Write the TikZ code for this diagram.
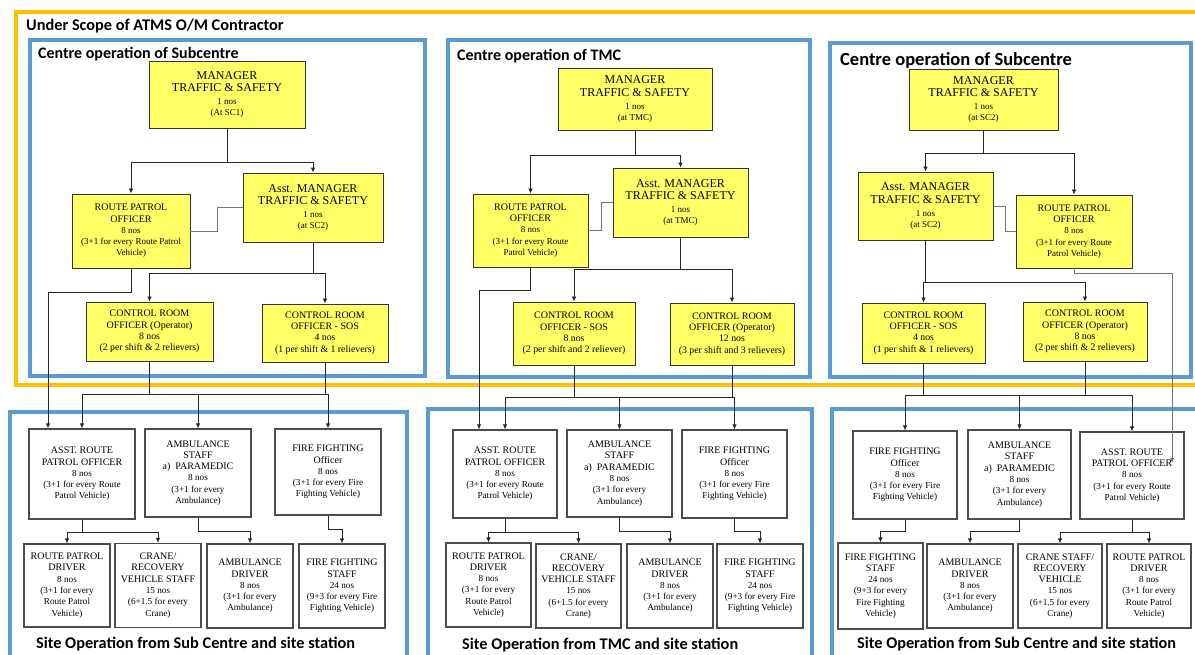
\documentclass[tikz,border=0pt]{standalone}
\usepackage{fontspec}
\setmainfont{Liberation Serif}
\newfontfamily\boxfont{Liberation Serif}
\newfontfamily\titlefont{Carlito}
\usepackage{tikz}
\usetikzlibrary{arrows.meta, positioning}
\definecolor{scopeyellow}{HTML}{FFC000}
\definecolor{frameblue}{HTML}{5B9BD5}
\definecolor{boxyellow}{HTML}{FFFF66}
\tikzstyle{manager} = [rectangle, draw=black!80, fill=boxyellow, align=center, inner sep=1pt, line width=0.9pt, font=\boxfont\fontsize{9}{11.3}\selectfont]
\tikzstyle{control} = [manager, font=\boxfont\fontsize{9.8}{11.3}\selectfont]
\tikzstyle{staff} = [rectangle, draw=black!70, fill=white, align=center, inner sep=1pt, line width=1.1pt, font=\boxfont\fontsize{9.2}{11.3}\selectfont]
\tikzstyle{bluebox} = [draw=frameblue, line width=4pt]
\tikzstyle{scopebox} = [draw=scopeyellow, line width=4pt]
\tikzstyle{heading} = [anchor=west, inner sep=0pt, font=\titlefont\bfseries\fontsize{16.3}{18}\selectfont]
\tikzstyle{link} = [draw=black!85, line width=0.8pt]
\tikzstyle{side} = [draw=black!55, line width=0.9pt]
\tikzstyle{arrow} = [link, -{Latex[length=5pt,width=4.5pt]}]
\newcommand{\bigtxt}[1]{{\fontsize{12}{13}\selectfont #1}}
\newcommand{\midtxt}[1]{{\fontsize{10}{11.5}\selectfont #1}}

\begin{document}
\begin{tikzpicture}[x=1pt, y=-1pt]
\useasboundingbox (0,0) rectangle (1195,655);
\clip (0,0) rectangle (1195,655);

% Cornici
\draw[scopebox] (16,12) rectangle (1215,385);
\draw[bluebox] (30,40) rectangle (425,376);
\draw[bluebox] (448,40) rectangle (810,377);
\draw[bluebox] (830,43) rectangle (1191,377);
\draw[bluebox] (10,412) rectangle (407,680);
\draw[bluebox] (428,409) rectangle (812,680);
\draw[bluebox] (832,409) rectangle (1215,680);

\node (scopeT) [heading] at (26,26) {Under Scope of ATMS O/M Contractor};
\node (centreA) [heading, font=\titlefont\bfseries\fontsize{16}{18}\selectfont] at (38,54) {Centre operation of Subcentre};
\node (centreB) [heading, font=\titlefont\bfseries\fontsize{16}{18}\selectfont] at (457,56) {Centre operation of TMC};
\node (centreC) [heading, font=\titlefont\bfseries\fontsize{18.5}{20}\selectfont] at (840,60) {Centre operation of Subcentre};
\node (siteA) [heading] at (36,644) {Site Operation from Sub Centre and site station};
\node (siteB) [heading] at (462,645) {Site Operation from TMC and site station};
\node (siteC) [heading] at (857,644) {Site Operation from Sub Centre and site station};

% Centro sinistra (SC1)
\node (mgrA) [manager, minimum width=156pt, minimum height=67pt] at (227,94.5) {\bigtxt{MANAGER}\\[1.5pt]\bigtxt{TRAFFIC \& SAFETY}\\[1.5pt]1 nos\\(At SC1)};
\node (rpoA) [manager, minimum width=118pt, minimum height=74pt] at (131,231) {\midtxt{ROUTE PATROL}\\\midtxt{OFFICER}\\8 nos\\(3+1 for every Route Patrol\\Vehicle)};
\node (asmA) [manager, minimum width=140pt, minimum height=69pt] at (313,207.5) {\bigtxt{Asst. MANAGER}\\[1.5pt]\bigtxt{TRAFFIC \& SAFETY}\\[1.5pt]1 nos\\(at SC2)};
\node (croA) [control, minimum width=127pt, minimum height=59pt] at (149.5,331.5) {\midtxt{CONTROL ROOM}\\\midtxt{OFFICER (Operator)}\\8 nos\\(2 per shift \& 2 relievers)};
\node (sosA) [control, minimum width=126pt, minimum height=58pt] at (325,333) {\midtxt{CONTROL ROOM}\\\midtxt{OFFICER - SOS}\\4 nos\\(1 per shift \& 1 relievers)};

\node (arpA) [staff, minimum width=106pt, minimum height=90pt] at (82,474) {\midtxt{ASST. ROUTE}\\\midtxt{PATROL OFFICER}\\8 nos\\(3+1 for every Route\\Patrol Vehicle)};
\node (ambA) [staff, minimum width=106pt, minimum height=88pt] at (198,473) {\midtxt{AMBULANCE}\\\midtxt{STAFF}\\\midtxt{a)~~PARAMEDIC}\\8 nos\\(3+1 for every\\Ambulance)};
\node (ffoA) [staff, minimum width=106pt, minimum height=86pt] at (328,472) {\midtxt{FIRE FIGHTING}\\\midtxt{Officer}\\8 nos\\(3+1 for every Fire\\Fighting Vehicle)};
\node (rpdA) [staff, minimum width=86pt, minimum height=83pt] at (67,585.5) {\midtxt{ROUTE PATROL}\\\midtxt{DRIVER}\\8 nos\\(3+1 for every\\Route Patrol\\Vehicle)};
\node (crnA) [staff, minimum width=86pt, minimum height=84pt] at (158,585.5) {\midtxt{CRANE/}\\\midtxt{RECOVERY}\\\midtxt{VEHICLE STAFF}\\15 nos\\(6+1.5 for every\\Crane)};
\node (ambdA) [staff, minimum width=86pt, minimum height=84pt] at (250,586) {\midtxt{AMBULANCE}\\\midtxt{DRIVER}\\8 nos\\(3+1 for every\\Ambulance)};
\node (ffsA) [staff, minimum width=86pt, minimum height=84pt] at (342,586) {\midtxt{FIRE FIGHTING}\\\midtxt{STAFF}\\24 nos\\(9+3 for every Fire\\Fighting Vehicle)};

% Centro TMC
\node (mgrB) [manager, minimum width=154pt, minimum height=62pt] at (635,99) {\bigtxt{MANAGER}\\[1.5pt]\bigtxt{TRAFFIC \& SAFETY}\\[1.5pt]1 nos\\(at TMC)};
\node (rpoB) [manager, minimum width=115pt, minimum height=73pt] at (530.5,230.5) {\midtxt{ROUTE PATROL}\\\midtxt{OFFICER}\\8 nos\\(3+1 for every Route\\Patrol Vehicle)};
\node (asmB) [manager, minimum width=135pt, minimum height=69pt] at (680.5,202.5) {\bigtxt{Asst. MANAGER}\\[1.5pt]\bigtxt{TRAFFIC \& SAFETY}\\[1.5pt]1 nos\\(at TMC)};
\node (sosB) [control, minimum width=122pt, minimum height=63pt] at (574,333.5) {\midtxt{CONTROL ROOM}\\\midtxt{OFFICER - SOS}\\8 nos\\(2 per shift and 2 reliever)};
\node (croB) [control, minimum width=124pt, minimum height=62pt] at (732,334) {\midtxt{CONTROL ROOM}\\\midtxt{OFFICER (Operator)}\\12 nos\\(3 per shift and 3 relievers)};

\node (arpB) [staff, minimum width=104pt, minimum height=88pt] at (505,474) {\midtxt{ASST. ROUTE}\\\midtxt{PATROL OFFICER}\\8 nos\\(3+1 for every Route\\Patrol Vehicle)};
\node (ambB) [staff, minimum width=105pt, minimum height=87pt] at (619.5,473.5) {\midtxt{AMBULANCE}\\\midtxt{STAFF}\\\midtxt{a)~~PARAMEDIC}\\8 nos\\(3+1 for every\\Ambulance)};
\node (ffoB) [staff, minimum width=105pt, minimum height=88pt] at (734.5,474) {\midtxt{FIRE FIGHTING}\\\midtxt{Officer}\\8 nos\\(3+1 for every Fire\\Fighting Vehicle)};
\node (rpdB) [staff, minimum width=85pt, minimum height=84pt] at (488.5,585) {\midtxt{ROUTE PATROL}\\\midtxt{DRIVER}\\8 nos\\(3+1 for every\\Route Patrol\\Vehicle)};
\node (crnB) [staff, minimum width=85pt, minimum height=84pt] at (578.5,586) {\midtxt{CRANE/}\\\midtxt{RECOVERY}\\\midtxt{VEHICLE STAFF}\\15 nos\\(6+1.5 for every\\Crane)};
\node (ambdB) [staff, minimum width=86pt, minimum height=84pt] at (670,586) {\midtxt{AMBULANCE}\\\midtxt{DRIVER}\\8 nos\\(3+1 for every\\Ambulance)};
\node (ffsB) [staff, minimum width=86pt, minimum height=84pt] at (760,586) {\midtxt{FIRE FIGHTING}\\\midtxt{STAFF}\\24 nos\\(9+3 for every Fire\\Fighting Vehicle)};

% Centro destra (SC2)
\node (mgrC) [manager, minimum width=149pt, minimum height=61pt] at (983.5,99.5) {\bigtxt{MANAGER}\\[1.5pt]\bigtxt{TRAFFIC \& SAFETY}\\[1.5pt]1 nos\\(at SC2)};
\node (asmC) [manager, minimum width=135pt, minimum height=68pt] at (925.5,206) {\bigtxt{Asst. MANAGER}\\[1.5pt]\bigtxt{TRAFFIC \& SAFETY}\\[1.5pt]1 nos\\(at SC2)};
\node (rpoC) [manager, minimum width=116pt, minimum height=73pt] at (1074,231.5) {\midtxt{ROUTE PATROL}\\\midtxt{OFFICER}\\8 nos\\(3+1 for every Route\\Patrol Vehicle)};
\node (sosC) [control, minimum width=123pt, minimum height=60pt] at (923.5,333) {\midtxt{CONTROL ROOM}\\\midtxt{OFFICER - SOS}\\4 nos\\(1 per shift \& 1 relievers)};
\node (croC) [control, minimum width=124pt, minimum height=59pt] at (1085,331.5) {\midtxt{CONTROL ROOM}\\\midtxt{OFFICER (Operator)}\\8 nos\\(2 per shift \& 2 relievers)};

\node (ffoC) [staff, minimum width=104pt, minimum height=88pt] at (905,475) {\midtxt{FIRE FIGHTING}\\\midtxt{Officer}\\8 nos\\(3+1 for every Fire\\Fighting Vehicle)};
\node (ambC) [staff, minimum width=103pt, minimum height=89pt] at (1019.5,474.5) {\midtxt{AMBULANCE}\\\midtxt{STAFF}\\\midtxt{a)~~PARAMEDIC}\\8 nos\\(3+1 for every\\Ambulance)};
\node (arpC) [staff, minimum width=104pt, minimum height=87pt] at (1132,475.5) {\midtxt{ASST. ROUTE}\\\midtxt{PATROL OFFICER}\\8 nos\\(3+1 for every Route\\Patrol Vehicle)};
\node (ffsC) [staff, minimum width=85pt, minimum height=86pt] at (880.5,586) {\midtxt{FIRE FIGHTING}\\\midtxt{STAFF}\\24 nos\\(9+3 for every\\Fire Fighting\\Vehicle)};
\node (ambdC) [staff, minimum width=86pt, minimum height=84pt] at (970,586) {\midtxt{AMBULANCE}\\\midtxt{DRIVER}\\8 nos\\(3+1 for every\\Ambulance)};
\node (crnC) [staff, minimum width=84pt, minimum height=84pt] at (1060,586) {\midtxt{CRANE STAFF/}\\\midtxt{RECOVERY}\\\midtxt{VEHICLE}\\15 nos\\(6+1.5 for every\\Crane)};
\node (rpdC) [staff, minimum width=84pt, minimum height=84pt] at (1149,586) {\midtxt{ROUTE PATROL}\\\midtxt{DRIVER}\\8 nos\\(3+1 for every\\Route Patrol\\Vehicle)};

% Flussi sinistra
\draw [link] (mgrA.south) -- ++(0,34) coordinate (jA);
\draw [arrow] (jA) -| (rpoA);
\draw [arrow] (jA) -| (asmA);
\draw [side] (asmA.west) -- ++(-25,0) |- (rpoA.east);
\draw [link] (asmA.south) -- ++(0,31) coordinate (kA);
\draw [arrow] (kA) -| (croA);
\draw [arrow] (kA) -| (sosA);
\draw [arrow] (rpoA.south) -- ++(0,24) -| ([xshift=-34pt]arpA.north);
\coordinate (busA) at (82,394);
\draw [link] (croA.south) -- (croA.south |- busA);
\draw [link] (sosA.south) -- (sosA.south |- busA);
\draw [link] (busA) -- (ffoA.north |- busA);
\draw [arrow] (busA) -- (arpA);
\draw [arrow] (busA) -| (ambA);
\draw [arrow] (busA) -| (ffoA);
\draw [link] (arpA.south) -- ++(0,13) coordinate (lA);
\draw [arrow] (lA) -| (rpdA);
\draw [arrow] (lA) -| (crnA);
\draw [arrow] (ambA.south) -- ++(0,14) -| (ambdA);
\draw [arrow] (ffoA.south) -- ++(0,14) -| (ffsA);

% Flussi TMC
\draw [link] (mgrB.south) -- ++(0,25) coordinate (jB);
\draw [arrow] (jB) -| (rpoB);
\draw [arrow] (jB) -| (asmB);
\draw [side] (asmB.west) -- ++(-11,0) |- (rpoB.east);
\draw [link] (asmB.south) -- ++(0,32) coordinate (kB);
\draw [arrow] (kB) -| (sosB);
\draw [arrow] (kB) -| (croB);
\draw [arrow] (rpoB.south) -- ++(0,23) -| ([xshift=-26pt]arpB.north);
\coordinate (busB) at (505,397);
\draw [link] (sosB.south) -- (sosB.south |- busB);
\draw [link] (croB.south) -- (croB.south |- busB);
\draw [link] (busB) -- (ffoB.north |- busB);
\draw [arrow] (busB) -- (arpB);
\draw [arrow] (busB) -| (ambB);
\draw [arrow] (busB) -| (ffoB);
\draw [link] (arpB.south) -- ++(0,14) coordinate (lB);
\draw [arrow] (lB) -| (rpdB);
\draw [arrow] (lB) -| (crnB);
\draw [arrow] (ambB.south) -- ++(0,14) -| (ambdB);
\draw [arrow] (ffoB.south) -- ++(0,13) -| (ffsB);

% Flussi destra
\draw [link] (mgrC.south) -- ++(0,23) coordinate (jC);
\draw [arrow] (jC) -| (asmC);
\draw [arrow] (jC) -| (rpoC);
\draw [side] (asmC.east) -- ++(12,0) |- (rpoC.west);
\draw [link] (asmC.south) -- ++(0,42) coordinate (kC);
\draw [arrow] (kC) -| (sosC);
\draw [arrow] (kC) -| (croC);
\coordinate (arpCin) at (1172,463);
\draw [side, -{Latex[length=5pt,width=4.5pt]}] (rpoC.south) -- ++(0,5) -| (arpCin);
\coordinate (busC) at (905,395);
\draw [link] (sosC.south) -- (sosC.south |- busC);
\draw [link] (croC.south) -- (croC.south |- busC);
\draw [link] (busC) -- (arpC.north |- busC);
\draw [arrow] (busC) -- (ffoC);
\draw [arrow] (busC) -| (ambC);
\draw [arrow] (busC) -| (arpC);
\draw [arrow] (ffoC.south) -- ++(0,12) -| (ffsC);
\draw [arrow] (ambC.south) -- ++(0,12) -| (ambdC);
\draw [link] (arpC.south) -- ++(0,13) coordinate (lC);
\draw [arrow] (lC) -| (crnC);
\draw [arrow] (lC) -| (rpdC);

\end{tikzpicture}
\end{document}
